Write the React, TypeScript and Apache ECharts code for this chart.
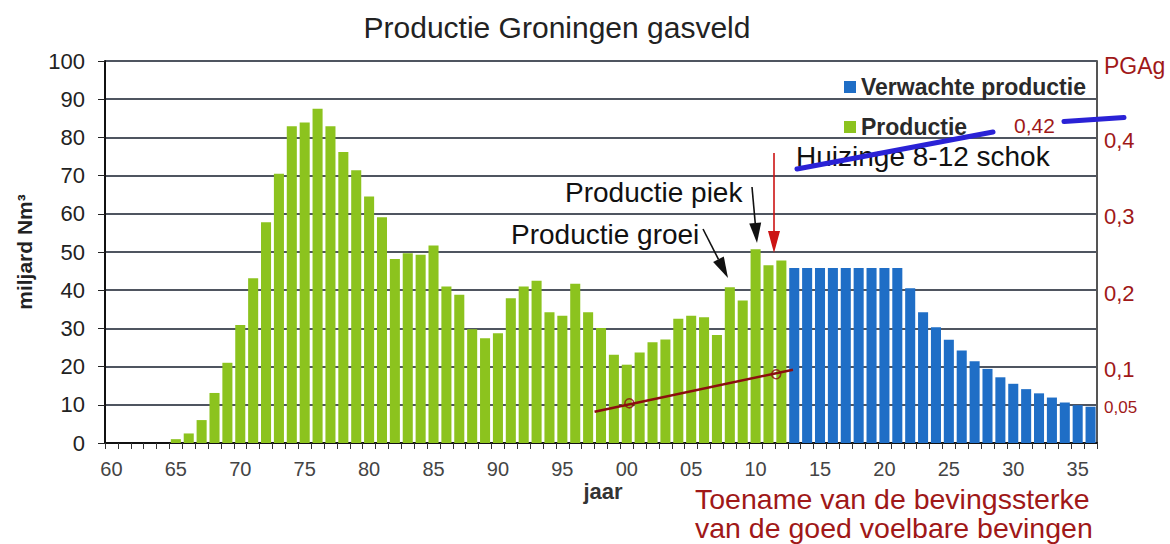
import React, { useEffect, useRef } from "react";
import * as echarts from "echarts";

// ---- data ----
const FIRST_YEAR = 1960;
const LAST_YEAR = 2036;
const years: number[] = [];
for (let y = FIRST_YEAR; y <= LAST_YEAR; y++) years.push(y);

// Productie 1960 - 2012 (miljard Nm3)
const productie = [
  0, 0, 0, 0, 0, 1.0, 2.5, 6.0, 13.1, 21.0,
  30.9, 43.1, 57.8, 70.5, 82.9, 83.9, 87.5, 82.9, 76.2, 71.4,
  64.5, 59.1, 48.2, 49.7, 49.3, 51.7, 41.0, 38.8, 29.8, 27.4,
  28.7, 37.9, 41.0, 42.5, 34.2, 33.3, 41.7, 34.2, 30.1, 23.1,
  20.5, 23.7, 26.4, 27.1, 32.5, 33.3, 32.9, 28.3, 40.8, 37.3,
  50.7, 46.5, 47.8,
];
// Verwachte productie 2013 - 2036
const verwachteProductie = [
  45.8, 45.8, 45.8, 45.8, 45.8, 45.8, 45.8, 45.8, 45.8, 40.5,
  34.2, 30.3, 27.0, 24.2, 21.4, 19.4, 17.2, 15.5, 14.1, 13.0,
  11.9, 10.6, 9.9, 9.5,
];
// PGAg trend (year, g)
const pgaTrendLine = [
  [1997.5, 0.041],
  [2012.9, 0.096],
];
const pgaTrendPoints = [
  [2000.2, 0.052],
  [2011.6, 0.09],
];
const pgaTickLabels = [0.05, 0.1, 0.2, 0.3, 0.4];

const FONT = "'Liberation Sans', Arial, Helvetica, sans-serif";
const RED = "#a01818";
const DARKRED = "#8b0f0f";
const GREEN = "#8cc31e";
const BLUE = "#1f6ec6";
const HAND_BLUE = "#2a22d6";

function arrowHead(x1: number, y1: number, x2: number, y2: number, len: number, half: number) {
  const dx = x2 - x1;
  const dy = y2 - y1;
  const d = Math.sqrt(dx * dx + dy * dy);
  const ux = dx / d;
  const uy = dy / d;
  const bx = x2 - ux * len;
  const by = y2 - uy * len;
  const px = -uy * half;
  const py = ux * half;
  return {
    base: [bx, by],
    points: [
      [x2, y2],
      [bx + px, by + py],
      [bx - px, by - py],
    ],
  };
}

function arrow(x1: number, y1: number, x2: number, y2: number, color: string, lw: number, len: number, half: number) {
  const h = arrowHead(x1, y1, x2, y2, len, half);
  return [
    {
      type: "line",
      shape: { x1, y1, x2: h.base[0], y2: h.base[1] },
      style: { stroke: color, lineWidth: lw },
      z: 100,
    },
    {
      type: "polygon",
      shape: { points: h.points },
      style: { fill: color },
      z: 100,
    },
  ];
}

function txt(text: string, x: number, y: number, size: number, color: string, opts: any = {}) {
  return {
    type: "text",
    x,
    y,
    rotation: opts.rotation || 0,
    z: 100,
    style: {
      text,
      fill: color,
      fontSize: size,
      fontFamily: FONT,
      fontWeight: opts.weight || "normal",
      lineHeight: opts.lineHeight,
      align: opts.align || "left",
      verticalAlign: "middle",
      textAlign: opts.align || "left",
      textVerticalAlign: "middle",
    },
  };
}

export default function App() {
  const ref = useRef<HTMLDivElement>(null);

  useEffect(() => {
    if (!ref.current) return;
    const chart = echarts.init(ref.current, null, { renderer: "svg" });

    const nGreen = productie.length;
    const greenData = years.map((_, i) => (i < nGreen ? productie[i] : null));
    const blueData = years.map((_, i) => (i >= nGreen ? verwachteProductie[i - nGreen] : null));

    const graphic: any[] = [
      txt("Productie Groningen gasveld", 557, 27, 30, "#222", { align: "center" }),
      txt("miljard Nm³", 24, 252, 21, "#222", { align: "center", rotation: Math.PI / 2, weight: "bold" }),
      txt("jaar", 603, 491, 22, "#333", { align: "center", weight: "bold" }),
      txt("PGAg", 1104, 66, 23, RED),
      txt("0,42", 1014, 125, 21, RED),
      txt("Productie piek", 565, 192, 28, "#111"),
      txt("Productie groei", 511, 234, 28, "#111"),
      txt("Huizinge 8-12 schok", 796, 156, 28, "#111"),
      txt("Toename van de bevingssterke\nvan de goed voelbare bevingen", 695, 513, 28.5, RED, { lineHeight: 29 }),
      ...arrow(774, 153, 774, 253, "#cc1414", 1.6, 22, 6),
      ...arrow(752, 187, 757, 243, "#111", 1.6, 20, 6),
      ...arrow(703, 229, 728, 278, "#111", 1.6, 21, 6),
      {
        type: "line",
        shape: { x1: 797, y1: 169, x2: 993, y2: 132 },
        style: { stroke: HAND_BLUE, lineWidth: 5, lineCap: "round" },
        z: 110,
      },
      {
        type: "line",
        shape: { x1: 1064, y1: 121.5, x2: 1124, y2: 117.5 },
        style: { stroke: HAND_BLUE, lineWidth: 5, lineCap: "round" },
        z: 110,
      },
    ];

    chart.setOption({
      animation: false,
      backgroundColor: "#ffffff",
      textStyle: { fontFamily: FONT },
      grid: { left: 105, right: 73, top: 61, bottom: 101, containLabel: false },
      legend: {
        data: ["Verwachte productie", "Productie"],
        orient: "vertical",
        left: 839,
        top: 68,
        itemWidth: 12,
        itemHeight: 12,
        itemGap: 12,
        icon: "rect",
        textStyle: { fontSize: 23, fontWeight: "bold", color: "#2a2a2a", fontFamily: FONT, lineHeight: 28 },
      },
      xAxis: [
        {
          type: "category",
          data: years,
          boundaryGap: true,
          axisLine: { show: true, lineStyle: { color: "#111", width: 2 } },
          axisTick: { show: true, interval: 0, length: 6, alignWithLabel: false, lineStyle: { color: "#333" } },
          axisLabel: {
            interval: 4,
            fontSize: 20,
            color: "#444",
            margin: 16,
            fontFamily: FONT,
            formatter: (v: string) => String(v).slice(2),
          },
          splitLine: { show: false },
        },
        {
          type: "value",
          min: FIRST_YEAR - 0.5,
          max: LAST_YEAR + 0.5,
          show: false,
          splitLine: { show: false },
        },
      ],
      yAxis: [
        {
          type: "value",
          min: 0,
          max: 100,
          interval: 10,
          axisLine: { show: true, lineStyle: { color: "#111", width: 2 } },
          axisTick: { show: true, length: 7, lineStyle: { color: "#222" } },
          axisLabel: { fontSize: 22, color: "#222", margin: 20, fontFamily: FONT },
          splitLine: { show: true, lineStyle: { color: "#4f5560", width: 2 } },
        },
        {
          type: "value",
          position: "right",
          min: 0,
          max: 0.5,
          interval: 0.05,
          axisLine: { show: true, lineStyle: { color: "#555", width: 2 } },
          axisTick: { show: false },
          splitLine: { show: false },
          axisLabel: {
            margin: 7,
            color: RED,
            padding: [6, 0, 0, 0],
            formatter: (v: number) => {
              const k = Math.round(v * 100);
              for (const t of pgaTickLabels) {
                if (Math.round(t * 100) === k) {
                  const s = String(t).replace(".", ",");
                  return k === 5 ? "{s|" + s + "}" : "{n|" + s + "}";
                }
              }
              return "";
            },
            rich: {
              n: { fontSize: 22, color: RED, fontFamily: FONT },
              s: { fontSize: 17, color: RED, fontFamily: FONT },
            },
          },
        },
      ],
      series: [
        {
          name: "Productie",
          type: "bar",
          xAxisIndex: 0,
          yAxisIndex: 0,
          stack: "prod",
          barCategoryGap: "22%",
          data: greenData,
          itemStyle: { color: GREEN },
        },
        {
          name: "Verwachte productie",
          type: "bar",
          xAxisIndex: 0,
          yAxisIndex: 0,
          stack: "prod",
          barCategoryGap: "22%",
          data: blueData,
          itemStyle: { color: BLUE },
        },
        {
          name: "PGAg trend",
          type: "line",
          xAxisIndex: 1,
          yAxisIndex: 1,
          data: pgaTrendLine,
          symbol: "none",
          z: 5,
          lineStyle: { color: DARKRED, width: 2.5 },
        },
        {
          name: "PGAg punten",
          type: "scatter",
          xAxisIndex: 1,
          yAxisIndex: 1,
          data: pgaTrendPoints,
          symbol: "circle",
          symbolSize: 9,
          z: 6,
          itemStyle: { color: "rgba(0,0,0,0)", borderColor: DARKRED, borderWidth: 1.6 },
        },
      ],
      graphic,
    });

    return () => chart.dispose();
  }, []);

  return (
    <div
      ref={ref}
      style={{ position: "fixed", left: 0, top: 0, width: 1170, height: 544, background: "#fff" }}
    />
  );
}
